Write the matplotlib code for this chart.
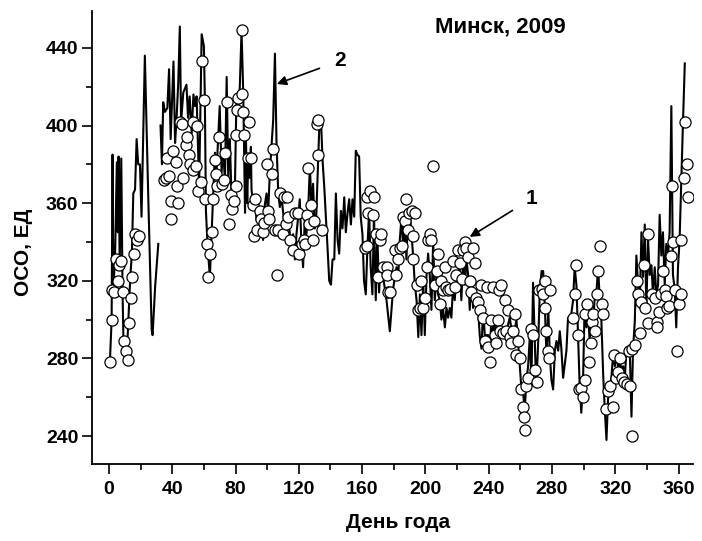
import numpy as np
import matplotlib
matplotlib.use("Agg")
import matplotlib.pyplot as plt
from matplotlib.ticker import MultipleLocator

plt.rcParams["font.family"] = ["Liberation Sans", "DejaVu Sans"]
plt.rcParams["font.weight"] = "bold"

# --- series 2: daily total ozone (line), NaN marks the data gap
line_days = [
    0.6, 1.7, 2.3, 2.8, 3.9, 5.0, 5.6, 6.1, 6.8, 7.8, 8.6, 9.2, 10.2, 11.2, 12.2, 13.5,
    14.5, 15.4, 16.5, 17.5, 18.5, 19.6, 20.6, 22.7, 24.8, 27.0, 27.6, 29.2, 31.2, 31.9,
    32.6, 33.5, 34.3, 35.4, 36.9, 38.0, 39.0, 39.7, 40.8, 41.8, 42.7, 43.8, 44.8, 45.6,
    47.0, 49.0, 50.0, 51.0, 52.3, 53.4, 54.4, 55.4, 57.0, 58.6, 60.0, 60.6, 61.3, 62.4,
    63.8, 64.9, 65.9, 67.0, 68.0, 69.0, 70.0, 71.2, 72.2, 73.3, 74.4, 75.4, 76.4, 77.5,
    78.5, 79.6, 80.6, 81.7, 82.7, 83.8, 84.9, 86.0, 86.6, 87.4, 88.0, 89.0, 89.7, 90.1,
    91.2, 92.2, 93.3, 94.3, 95.3, 96.4, 97.4, 98.5, 99.6, 100.6, 101.7, 102.7, 103.8,
    104.9, 105.9, 107.0, 108.0, 109.1, 110.1, 111.2, 112.2, 113.3, 114.3, 115.4, 116.4,
    117.5, 118.5, 119.6, 120.6, 121.7, 122.7, 123.8, 124.8, 125.9, 127.0, 128.0, 129.0,
    130.0, 131.0, 133.0, 134.0, 135.0, 136.1, 137.1, 138.2, 139.2, 140.3, 141.3, 142.4,
    143.4, 144.5, 145.5, 146.6, 147.6, 148.7, 149.7, 150.8, 151.8, 152.9, 153.9, 155.0,
    156.0, 157.0, 158.1, 159.1, 160.2, 161.2, 162.3, 163.3, 164.4, 165.4, 166.5, 167.5,
    168.6, 169.6, 170.7, 171.7, 173.3, 175.4, 177.5, 179.6, 181.7, 182.8, 183.8, 184.9,
    186.0, 187.0, 188.0, 189.1, 190.1, 191.2, 192.3, 193.3, 194.4, 195.5, 196.5, 197.5,
    198.6, 199.6, 200.7, 201.7, 202.8, 203.8, 204.9, 205.9, 207.0, 208.0, 209.1, 210.1,
    211.2, 212.3, 213.3, 214.3, 215.4, 216.4, 217.5, 218.5, 219.6, 221.7, 222.7, 223.8,
    224.9, 225.9, 227.0, 228.0, 229.1, 230.1, 231.2, 232.2, 233.3, 234.3, 235.4, 236.5,
    237.5, 238.6, 239.6, 240.7, 241.7, 242.8, 243.8, 244.9, 246.0, 247.0, 249.1, 251.2,
    253.3, 255.4, 257.5, 259.6, 260.7, 261.7, 262.8, 263.8, 264.9, 266.0, 267.0, 268.0,
    269.0, 270.0, 271.3, 272.3, 273.4, 274.4, 275.5, 276.5, 277.6, 278.6, 279.6, 280.7,
    281.8, 282.8, 283.9, 284.9, 285.9, 287.0, 289.1, 290.1, 291.2, 292.2, 293.3, 294.3,
    295.4, 296.4, 297.5, 298.5, 299.6, 300.6, 301.7, 302.7, 303.8, 304.8, 305.9, 306.9,
    308.0, 309.1, 310.2, 311.2, 312.3, 313.3, 314.4, 315.4, 316.5, 317.5, 318.6, 319.7,
    320.7, 321.8, 322.8, 323.9, 324.9, 326.0, 327.0, 329.1, 330.2, 331.2, 332.3, 333.3,
    334.4, 335.4, 336.5, 337.5, 338.6, 339.6, 340.7, 341.7, 342.8, 343.8, 344.9, 345.9,
    347.0, 348.0, 349.1, 350.1, 351.2, 352.2, 353.3, 354.3, 355.4, 356.4, 357.5, 358.5,
    359.6, 360.6, 361.7, 362.8, 363.9,
]
line_vals = [
    278, 300, 385, 315, 334, 381, 345, 384, 328, 383, 314, 288, 284, 280, 298, 322,
    334, 365, 367, 393, 380, 380, 353, 436, 365, 295, 292, 317, 339, np.nan,
    400, 380, 412, 407, 409, 429, 393, 409, 433, 391, 403, 422, 451, 402,
    417, 421, 404, 415, 396, 416, 410, 415, 368, 447, 441, 415, 356, 337,
    322, 345, 365, 386, 376, 393, 410, 376, 388, 371, 425, 373, 393, 362,
    361, 367, 415, 408, 420, 449, 416, 355, 393, 360, 382, 373, 389, 367,
    359, 362, 351, 356, 355, 349, 341, 359, 365, 355, 376, 389, 403,
    437, 391, 365, 358, 363, 355, 347, 351, 355, 344, 339, 344,
    331, 344, 353, 362, 338, 327, 353, 344, 356, 380, 356, 370,
    347, 353, 401, 403, 382, 368, 353, 336, 320, 318, 331, 331,
    365, 341, 334, 356, 347, 363, 345, 355, 362, 349, 362, 353,
    387, 385, 384, 353, 344, 320, 313, 336, 356, 327, 313, 355,
    310, 344, 314, 327, 322, 310, 294, 316, 327, 322, 341, 353,
    336, 351, 331, 356, 355, 344, 332, 318, 310, 291, 313, 292,
    320, 292, 323, 334, 322, 305, 341, 310, 322, 313, 310, 300,
    305, 296, 306, 301, 306, 301, 318, 310, 322, 327, 310, 331,
    318, 331, 323, 305, 322, 306, 313, 310, 305, 292, 285, 306,
    292, 292, 292, 283, 301, 292, 301, 292, 297, 292, 294, 294,
    301, 289, 300, 276, 264, 262, 254, 269, 276, 292, 269, 319,
    292, 265, 289, 316, 325, 325, 306, 280, 306, 282, 269, 264,
    284, 289, 284, 294, 285, 270, 284, 301, 299, 303, 310, 327,
    318, 292, 265, 252, 269, 307, 296, 303, 289, 305, 299, 310,
    313, 327, 310, 299, 272, 254, 238, 259, 265, 270, 282, 276,
    284, 274, 279, 274, 276, 270, 284, 285, 250, 285, 299, 333,
    318, 306, 345, 322, 349, 306, 341, 323, 328, 313, 327, 313,
    318, 354, 333, 345, 318, 339, 333, 345, 410, 323, 316, 296,
    327, 341, 372, 403, 432,
]

# --- series 1: circles
circ_days = [
    0.6, 1.7, 2.1, 3.4, 4.2, 5.9, 6.3, 7.6, 8.6, 9.5, 10.7, 11.8, 12.6, 13.7, 14.7, 15.6,
    16.4, 17.9, 18.9, 35.0, 35.8, 36.9, 37.7, 39.0, 39.4, 40.7, 42.2, 42.8, 43.6, 44.9,
    46.1, 47.0, 48.6, 49.5, 50.3, 51.2, 52.9, 53.3, 54.8, 55.6, 56.6, 57.9, 58.8, 60.0,
    60.6, 61.7, 62.9, 63.8, 65.3, 65.9, 67.0, 67.8, 68.6, 69.7, 71.2, 72.7, 73.5, 74.6,
    75.8, 76.9, 77.9, 79.0, 80.0, 80.6, 81.1, 81.7, 83.8, 84.0, 85.0, 85.3, 88.1, 88.7,
    89.8, 91.2, 91.8, 92.2, 93.3, 95.3, 96.0, 97.5, 98.2, 99.6, 100.7, 101.3, 102.8,
    103.8, 104.9, 106.0, 107.0, 108.0, 109.7, 110.7, 111.8, 112.7, 113.1, 114.4, 116.1,
    117.5, 119.6, 120.3, 121.8, 123.5, 123.9, 125.0, 126.1, 126.4, 127.8, 129.2, 129.8,
    131.4, 132.0, 132.3, 134.5, 161.7, 162.8, 162.8, 163.4, 164.9, 167.0, 167.4, 169.0,
    170.1, 171.6, 172.2, 173.3, 175.4, 175.8, 176.5, 177.5, 180.7, 181.7, 182.8, 183.8,
    184.9, 186.0, 187.0, 188.0, 189.1, 189.8, 191.2, 192.3, 192.3, 193.3, 194.4, 195.5,
    196.5, 197.5, 198.6, 199.6, 200.7, 201.7, 202.8, 203.8, 204.9, 205.9, 207.0, 208.0,
    209.1, 210.1, 211.2, 212.3, 213.3, 214.3, 215.4, 217.5, 218.5, 219.6, 220.7, 221.7,
    222.8, 223.8, 224.9, 225.9, 227.0, 228.0, 229.1, 230.1, 231.2, 232.2, 233.3, 234.3,
    235.4, 236.5, 237.5, 238.6, 239.6, 240.7, 241.7, 242.8, 243.8, 244.9, 246.0, 246.5,
    247.0, 248.0, 249.1, 250.1, 251.2, 252.2, 253.3, 254.3, 255.4, 256.4, 257.5, 258.5,
    259.6, 260.7, 261.7, 262.3, 262.8, 263.8, 264.9, 267.0, 268.1, 269.2, 270.5, 271.8,
    273.4, 274.4, 275.5, 275.8, 276.1, 277.6, 278.3, 278.7, 293.3, 294.4, 295.0, 296.5,
    297.2, 298.6, 299.3, 300.8, 301.0, 302.3, 303.6, 304.4, 305.1, 306.1, 307.2, 308.2,
    309.2, 310.3, 311.4, 312.4, 314.1, 315.6, 316.7, 318.4, 319.2, 320.5, 322.0, 323.0,
    324.1, 325.6, 327.3, 328.4, 329.0, 330.5, 330.8, 332.6, 333.7, 334.1, 335.8, 336.4,
    337.9, 339.0, 340.5, 340.6, 343.3, 344.8, 346.1, 346.5, 347.6, 349.0, 350.1, 351.2,
    351.8, 352.9, 353.9, 355.0, 356.0, 356.7, 357.6, 358.8, 360.3, 361.4, 361.8, 363.1,
    364.2, 365.2, 366.1,
]
circ_vals = [
    278, 300, 315, 314, 331, 320, 328, 330, 314, 289, 284, 279, 298, 311, 322, 334,
    344, 341, 343, 372, 373, 383, 374, 352, 361, 387, 381, 369, 360, 402,
    401, 373, 390, 394, 385, 380, 402, 377, 379, 400, 366, 371, 433, 413,
    362, 339, 322, 334, 345, 362, 382, 375, 369, 394, 370, 372, 386, 412,
    349, 364, 357, 361, 369, 395, 408, 414, 449, 416, 407, 395, 383, 402,
    383, 359, 343, 362, 346, 356, 352, 345, 350, 380, 356, 352, 375,
    388, 346, 323, 346, 365, 344, 363, 349, 363, 353, 341, 336,
    355, 355, 334, 339, 341, 339, 354, 378, 349, 359, 341, 351,
    401, 385, 403, 346, 337, 338, 363, 355, 366, 354, 363, 344,
    322, 341, 344, 327, 327, 323, 314, 314, 336, 323, 331, 337,
    338, 353, 351, 362, 346, 355, 356, 343, 331, 355, 318, 305,
    306, 320, 306, 311, 327, 341, 344, 341, 379, 318, 325, 334,
    308, 320, 315, 327, 317, 315, 316, 330, 317, 323, 336, 329,
    321, 336, 340, 337, 332, 320, 314, 337, 329, 311, 309, 305,
    318, 301, 289, 317, 286, 278, 300, 317, 292, 288, 300, 315,
    294, 318, 293, 310, 294, 305, 291, 288, 294, 303, 282, 289,
    280, 264, 255, 250, 243, 266, 270, 295, 292, 274, 268, 315,
    316, 313, 320, 306, 294, 284, 280, 315, 301, 313, 328, 292,
    264, 265, 260, 269, 303, 308, 278, 288, 299, 303, 294, 313,
    325, 338, 308, 303, 254, 263, 266, 255, 282, 270, 273, 280,
    270, 268, 267, 284, 266, 240, 285, 287, 320, 313, 293, 309,
    328, 306, 298, 344, 313, 311, 299, 296, 304, 313, 325, 315,
    312, 306, 307, 333, 369, 340, 315, 284, 308, 313, 341, 373,
    402, 380, 363,
]

x_ticks = [0, 40, 80, 120, 160, 200, 240, 280, 320, 360]
y_ticks = [240, 280, 320, 360, 400, 440]

fig = plt.figure(figsize=(7.02, 5.41), dpi=100)
ax = fig.add_axes([0.1315, 0.1423, 0.8555, 0.8374])

ax.plot(line_days, line_vals, color="black", lw=1.5, zorder=2)
ax.plot(circ_days, circ_vals, ls="none", marker="o", ms=8, mfc="white",
        mec="black", mew=0.9, zorder=3)

ax.set_xlim(-10.5, 369)
ax.set_ylim(225.6, 459)
ax.set_xticks(x_ticks)
ax.set_yticks(y_ticks)
ax.xaxis.set_minor_locator(MultipleLocator(20))
ax.yaxis.set_minor_locator(MultipleLocator(20))

for s in ["top", "right"]:
    ax.spines[s].set_visible(False)
for s in ["left", "bottom"]:
    ax.spines[s].set_linewidth(1.3)

ax.tick_params(which="major", direction="out", length=7, width=1.2, labelsize=14)
ax.tick_params(which="minor", direction="out", length=4, width=1.2)
ax.tick_params(axis="x", which="major", pad=5)
ax.tick_params(axis="y", which="major", pad=3)
for lab in ax.get_xticklabels() + ax.get_yticklabels():
    lab.set_fontweight("bold")

ax.set_xlabel("День года", fontsize=15, fontweight="bold")
ax.set_ylabel("ОСО, ЕД", fontsize=15, fontweight="bold")
ax.xaxis.set_label_coords(0.509, -0.108)
ax.yaxis.set_label_coords(-0.099, 0.468)

ax.text(0.68, 0.965, "Минск, 2009", transform=ax.transAxes, ha="center",
        va="center", fontsize=16, fontweight="bold")

ax.annotate("2", xy=(106.1, 421.4), xytext=(145.9, 433.3), fontsize=15,
            fontweight="bold", ha="center", va="center",
            arrowprops=dict(arrowstyle="-|>", color="black", lw=1.2,
                            mutation_scale=14, shrinkA=9, shrinkB=0))
ax.annotate("1", xy=(228.0, 342.6), xytext=(267.2, 362.4), fontsize=15,
            fontweight="bold", ha="center", va="center",
            arrowprops=dict(arrowstyle="-|>", color="black", lw=1.2,
                            mutation_scale=14, shrinkA=9, shrinkB=0))

fig.savefig("out.png", dpi=100)
